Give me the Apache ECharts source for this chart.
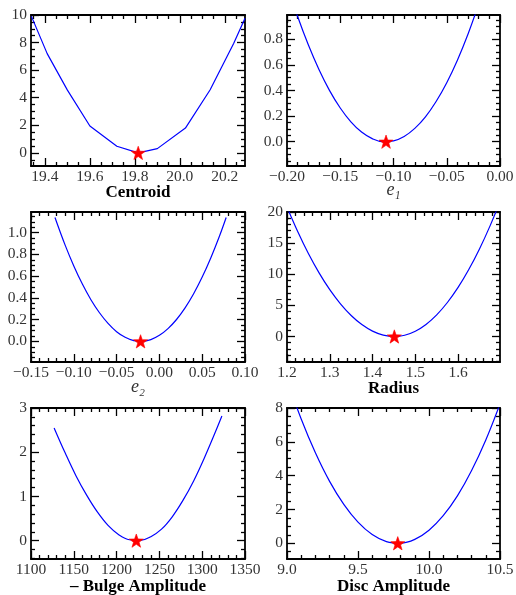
<!DOCTYPE html>
<html>
<head>
<meta charset="utf-8">
<script src="https://cdn.jsdelivr.net/npm/echarts@6/dist/echarts.min.js"></script>
<style>
html,body{margin:0;padding:0;background:#fff;}
#c{width:516px;height:595px;}
</style>
</head>
<body>
<div id="c"></div>
<script>
// ---------------- data ----------------
// Panel 1: Centroid
const centroidX = [19.34, 19.41, 19.50, 19.60, 19.72, 19.815, 19.90, 20.025, 20.135, 20.24, 20.29];
const centroidY = [9.9, 7.2, 4.55, 1.95, 0.48, 0.0, 0.31, 1.8, 4.58, 7.95, 9.76];
const centroidBest = [19.815, 0];
const centroidXTicks = [19.4, 19.6, 19.8, 20.0, 20.2];
const centroidYTicks = [0, 2, 4, 6, 8, 10];

// Panel 2: e1
const e1X = [-0.20, -0.19, -0.18, -0.17, -0.16, -0.15, -0.14, -0.13, -0.12, -0.11, -0.10, -0.09, -0.08, -0.07, -0.06, -0.05, -0.04, -0.03, -0.02];
const e1Y = [1.228, 0.978, 0.757, 0.564, 0.399, 0.263, 0.155, 0.075, 0.024, 0.001, 0.007, 0.041, 0.104, 0.194, 0.314, 0.461, 0.637, 0.842, 1.075];
const e1Best = [-0.107, 0];
const e1XTicks = [-0.20, -0.15, -0.10, -0.05, 0.00];
const e1YTicks = [0.0, 0.2, 0.4, 0.6, 0.8];

// Panel 3: e2
const e2X = [-0.122, -0.11, -0.10, -0.09, -0.08, -0.07, -0.06, -0.05, -0.04, -0.03, -0.02, -0.01, 0.00, 0.01, 0.02, 0.03, 0.04, 0.05, 0.06, 0.07, 0.078];
const e2Y = [1.14, 0.883, 0.694, 0.527, 0.383, 0.263, 0.165, 0.089, 0.037, 0.007, 0.0005, 0.016, 0.055, 0.117, 0.201, 0.308, 0.438, 0.591, 0.767, 0.965, 1.14];
const e2Best = [-0.022, 0];
const e2XTicks = [-0.15, -0.10, -0.05, 0.00, 0.05, 0.10];
const e2YTicks = [0.0, 0.2, 0.4, 0.6, 0.8, 1.0];

// Panel 4: Radius
const radiusX = [1.20, 1.225, 1.25, 1.275, 1.30, 1.325, 1.35, 1.375, 1.40, 1.425, 1.451, 1.475, 1.50, 1.525, 1.55, 1.575, 1.60, 1.625, 1.65, 1.675, 1.70];
const radiusY = [20.8, 16.86, 13.33, 10.22, 7.52, 5.24, 3.37, 1.91, 0.86, 0.22, 0.0, 0.20, 0.85, 1.94, 3.48, 5.46, 7.88, 10.75, 14.06, 17.81, 22.0];
const radiusBest = [1.451, 0];
const radiusXTicks = [1.2, 1.3, 1.4, 1.5, 1.6];
const radiusYTicks = [0, 5, 10, 15, 20];

// Panel 5: - Bulge Amplitude
const bulgeX = [1127, 1140, 1152.5, 1165, 1177.5, 1190, 1202.5, 1215, 1227.5, 1240, 1252.5, 1265, 1277.5, 1290, 1302.5, 1315, 1323];
const bulgeY = [2.55, 1.98, 1.47, 1.03, 0.65, 0.345, 0.135, 0.02, 0.005, 0.09, 0.26, 0.54, 0.91, 1.35, 1.87, 2.44, 2.82];
const bulgeBest = [1223, 0];
const bulgeXTicks = [1100, 1150, 1200, 1250, 1300, 1350];
const bulgeYTicks = [0, 1, 2, 3];

// Panel 6: Disc Amplitude
const discX = [9.0, 9.1, 9.2, 9.3, 9.4, 9.5, 9.6, 9.7, 9.8, 9.9, 10.0, 10.1, 10.2, 10.3, 10.4, 10.5];
const discY = [9.67, 7.35, 5.35, 3.66, 2.30, 1.25, 0.515, 0.10, 0.006, 0.229, 0.770, 1.63, 2.80, 4.30, 6.11, 8.24];
const discBest = [9.78, 0];
const discXTicks = [9.0, 9.5, 10.0, 10.5];
const discYTicks = [0, 2, 4, 6, 8];

// ---------------- layout / axis settings ----------------
const FONT = "'Liberation Serif', 'DejaVu Serif', serif";
const panels = [
  {name: 'Centroid', bold: true, x: centroidX, y: centroidY, best: centroidBest, xt: centroidXTicks, yt: centroidYTicks,
   xr: [19.338, 20.29], yr: [-0.95, 10], xm: 0.05, ym: 0.5, xd: 1, yd: 0, smooth: false,
   g: {left: 31, top: 15, width: 214, height: 151}, gap: 27},
  {name: 'e\u2081', bold: false, x: e1X, y: e1Y, best: e1Best, xt: e1XTicks, yt: e1YTicks,
   xr: [-0.20, 0.0], yr: [-0.19, 0.99], xm: 0.01, ym: 0.05, xd: 2, yd: 1, smooth: 0.4,
   g: {left: 287, top: 15, width: 213, height: 151}, gap: 24},
  {name: 'e\u2082', bold: false, x: e2X, y: e2Y, best: e2Best, xt: e2XTicks, yt: e2YTicks,
   xr: [-0.15, 0.10], yr: [-0.19, 1.19], xm: 0.01, ym: 0.05, xd: 2, yd: 1, smooth: 0.4,
   g: {left: 31, top: 212, width: 214, height: 150}, gap: 25},
  {name: 'Radius', bold: true, x: radiusX, y: radiusY, best: radiusBest, xt: radiusXTicks, yt: radiusYTicks,
   xr: [1.2, 1.698], yr: [-4.1, 20], xm: 0.02, ym: 1, xd: 1, yd: 0, smooth: 0.4,
   g: {left: 287, top: 212, width: 213, height: 150}, gap: 27},
  {name: '\u2013 Bulge Amplitude', bold: true, x: bulgeX, y: bulgeY, best: bulgeBest, xt: bulgeXTicks, yt: bulgeYTicks,
   xr: [1100, 1350], yr: [-0.415, 3], xm: 10, ym: 0.2, xd: 0, yd: 0, smooth: 0.4,
   g: {left: 31, top: 408, width: 214, height: 151}, gap: 28},
  {name: 'Disc Amplitude', bold: true, x: discX, y: discY, best: discBest, xt: discXTicks, yt: discYTicks,
   xr: [9.0, 10.5], yr: [-0.93, 8], xm: 0.1, ym: 0.5, xd: 1, yd: 0, smooth: 0.4,
   g: {left: 287, top: 408, width: 213, height: 151}, gap: 28}
];

function minorTicks(range, step, majors) {
  const out = [];
  const k0 = Math.ceil(range[0] / step - 1e-9), k1 = Math.floor(range[1] / step + 1e-9);
  for (let k = k0; k <= k1; k++) {
    const v = Math.round(k * step * 1e9) / 1e9;
    if (!majors.some(m => Math.abs(m - v) < step / 10)) out.push(v);
  }
  return out;
}
function fmt(dec) {
  return v => (v < -1e-12 ? '\u2212' : '') + Math.abs(v).toFixed(dec);
}

const FRAME = {color: '#000', width: 1.8};
const TICK = {color: '#000', width: 1.3};
const MAJ = 8, MIN = 4;

const grids = [], xAxes = [], yAxes = [], series = [];
const STAR = 'path://M0,-10 L2.35,-3.24 L9.51,-3.09 L3.8,1.24 L5.88,8.09 L0,4 L-5.88,8.09 L-3.8,1.24 L-9.51,-3.09 L-2.35,-3.24 Z';

panels.forEach((p, i) => {
  grids.push(Object.assign({containLabel: false, outerBoundsMode: 'none'}, p.g));
  const xMinor = minorTicks(p.xr, p.xm, p.xt);
  const yMinor = minorTicks(p.yr, p.ym, p.yt);
  const labelStyle = {fontFamily: FONT, fontSize: 15.5, color: '#333'};

  function axis(dim, pos, ticks, len, withLine, labels, dec, extra) {
    const r = dim === 'x' ? p.xr : p.yr;
    const a = {
      gridIndex: i, type: 'value', position: pos, min: r[0], max: r[1],
      axisLine: {show: withLine, onZero: false, lineStyle: FRAME},
      axisTick: {show: true, inside: true, length: len, customValues: ticks, lineStyle: TICK},
      axisLabel: labels ? Object.assign({show: true, customValues: ticks, formatter: fmt(dec), margin: dim === 'x' ? 3 : 4}, labelStyle) : {show: false},
      splitLine: {show: false},
      minorTick: {show: false}
    };
    return Object.assign(a, extra || {});
  }
  const nameStyle = {
    fontFamily: FONT, fontSize: p.bold ? 17 : 18, fontWeight: p.bold ? 'bold' : 'normal',
    fontStyle: p.bold ? 'normal' : 'italic', color: p.bold ? '#000' : '#333', verticalAlign: 'middle'
  };
  xAxes.push(axis('x', 'bottom', p.xt, MAJ, true, true, p.xd,
    {name: p.name, nameLocation: 'middle', nameGap: p.gap, nameTextStyle: nameStyle, nameMoveOverlap: false}));
  xAxes.push(axis('x', 'bottom', xMinor, MIN, false, false));
  xAxes.push(axis('x', 'top', p.xt, MAJ, true, false));
  xAxes.push(axis('x', 'top', xMinor, MIN, false, false));
  yAxes.push(axis('y', 'left', p.yt, MAJ, true, true, p.yd));
  yAxes.push(axis('y', 'left', yMinor, MIN, false, false));
  yAxes.push(axis('y', 'right', p.yt, MAJ, true, false));
  yAxes.push(axis('y', 'right', yMinor, MIN, false, false));

  series.push({
    type: 'line', xAxisIndex: i * 4, yAxisIndex: i * 4,
    data: p.x.map((v, k) => [v, p.y[k]]),
    showSymbol: false, symbol: 'none', clip: true, smooth: p.smooth,
    lineStyle: {color: '#0000ff', width: 1.2}, z: 2, silent: true, animation: false
  });
  series.push({
    type: 'scatter', xAxisIndex: i * 4, yAxisIndex: i * 4,
    data: [p.best], symbol: STAR, symbolSize: 14, symbolKeepAspect: true,
    itemStyle: {color: '#ff0000', borderColor: '#ff0000', borderWidth: 0.6, opacity: 1}, z: 5, silent: true, animation: false
  });
});

const chart = echarts.init(document.getElementById('c'), null, {renderer: 'canvas'});
chart.setOption({
  animation: false,
  backgroundColor: '#fff',
  grid: grids,
  xAxis: xAxes,
  yAxis: yAxes,
  series: series
});
</script>
</body>
</html>
